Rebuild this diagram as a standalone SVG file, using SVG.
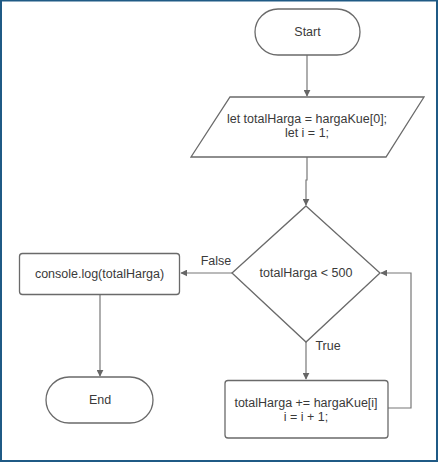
<svg xmlns="http://www.w3.org/2000/svg" width="438" height="462" viewBox="0 0 438 462">
<defs>
<style>
.shape{fill:#fff;stroke:#6a6a6a;stroke-width:1.3}
.edge{fill:none;stroke:#777;stroke-width:1.2}
text{font-family:"Liberation Sans",Arial,sans-serif;font-size:12.5px;fill:#3a3a3a;text-anchor:middle;dominant-baseline:central}
</style>
<marker id="arr" viewBox="0 0 10 10" refX="9" refY="5" markerWidth="7" markerHeight="7" markerUnits="userSpaceOnUse" orient="auto">
<path d="M0,0 L10,5 L0,10 z" fill="#666"/>
</marker>
</defs>
<rect x="0" y="0" width="438" height="462" fill="#fff"/>
<rect x="1" y="0.5" width="436" height="460.5" fill="none" stroke="#1f5a85" stroke-width="2"/>
<g id="connectors">
<path class="edge" d="M307,55 V96" marker-end="url(#arr)"/>
<path class="edge" d="M307,157 V180 H306 V205" marker-end="url(#arr)"/>
<path class="edge" d="M232,273 H181" marker-end="url(#arr)"/>
<path class="edge" d="M100,294 V376" marker-end="url(#arr)"/>
<path class="edge" d="M306,342 V379" marker-end="url(#arr)"/>
<path class="edge" d="M388,408 H411 V273 H381" marker-end="url(#arr)"/>
<text x="216" y="261">False</text>
<text x="328" y="346">True</text>
</g>
<g id="start">
<rect class="shape" x="255" y="9" width="105" height="46" rx="23"/>
<text x="307.5" y="32">Start</text>
</g>
<g id="init">
<polygon class="shape" points="230,97 424,97 386,157 191,157"/>
<text x="307" y="119">let totalHarga = hargaKue[0];</text>
<text x="307" y="132.5">let i = 1;</text>
</g>
<g id="cond">
<polygon class="shape" points="306,206 380,273 306,342 232,273"/>
<text x="306" y="273">totalHarga &lt; 500</text>
</g>
<g id="print">
<rect class="shape" x="19.5" y="253.5" width="160" height="41" rx="3"/>
<text x="99.5" y="273.5">console.log(totalHarga)</text>
</g>
<g id="end">
<rect class="shape" x="46" y="377" width="107" height="46" rx="23"/>
<text x="100" y="400">End</text>
</g>
<g id="body">
<rect class="shape" x="225" y="380.5" width="163" height="57.5" rx="3"/>
<text x="306" y="403">totalHarga += hargaKue[i]</text>
<text x="306" y="416.5">i = i + 1;</text>
</g>
</svg>
